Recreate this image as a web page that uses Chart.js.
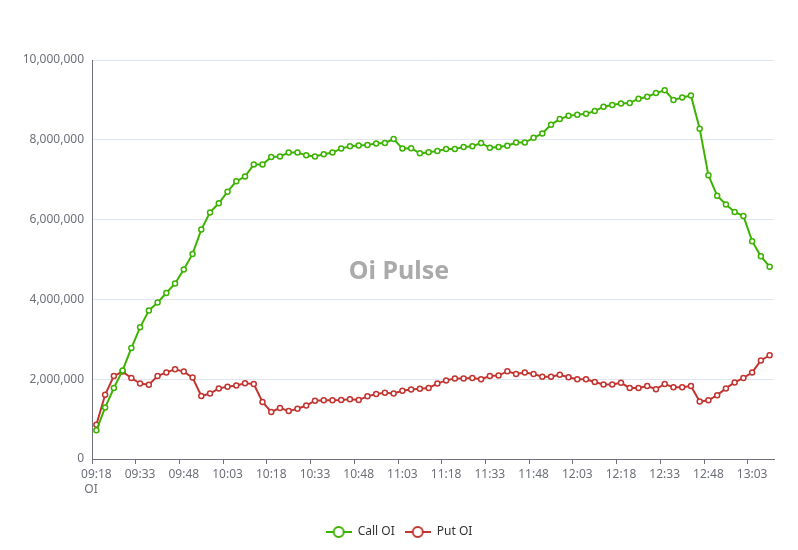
<!DOCTYPE html>
<html>
<head>
<meta charset="utf-8">
<title>Oi Pulse</title>
<script src="https://cdn.jsdelivr.net/npm/chart.js@4/dist/chart.umd.min.js"></script>
<style>
  html, body { margin: 0; padding: 0; background: #fff; }
  #wrap { width: 798px; height: 550px; }
</style>
</head>
<body>
<div id="wrap"><canvas id="oiChart" width="798" height="550"></canvas></div>
<script>
// time slots (every 3 min)
const times = [
  '09:18', '09:21', '09:24', '09:27', '09:30', '09:33', '09:36', '09:39', '09:42', '09:45',
  '09:48', '09:51', '09:54', '09:57', '10:00', '10:03', '10:06', '10:09', '10:12', '10:15',
  '10:18', '10:21', '10:24', '10:27', '10:30', '10:33', '10:36', '10:39', '10:42', '10:45',
  '10:48', '10:51', '10:54', '10:57', '11:00', '11:03', '11:06', '11:09', '11:12', '11:15',
  '11:18', '11:21', '11:24', '11:27', '11:30', '11:33', '11:36', '11:39', '11:42', '11:45',
  '11:48', '11:51', '11:54', '11:57', '12:00', '12:03', '12:06', '12:09', '12:12', '12:15',
  '12:18', '12:21', '12:24', '12:27', '12:30', '12:33', '12:36', '12:39', '12:42', '12:45',
  '12:48', '12:51', '12:54', '12:57', '13:00', '13:03', '13:06', '13:09'
];

// open interest, in millions
const callOI = [
  0.72, 1.29, 1.78, 2.22, 2.78, 3.30, 3.72, 3.92, 4.16, 4.40,
  4.75, 5.14, 5.75, 6.18, 6.41, 6.70, 6.96, 7.08, 7.38, 7.38,
  7.57, 7.58, 7.68, 7.68, 7.61, 7.58, 7.64, 7.68, 7.78, 7.84,
  7.86, 7.87, 7.91, 7.92, 8.02, 7.78, 7.79, 7.66, 7.69, 7.72,
  7.77, 7.77, 7.82, 7.84, 7.92, 7.80, 7.82, 7.85, 7.93, 7.93,
  8.05, 8.16, 8.38, 8.52, 8.60, 8.63, 8.65, 8.72, 8.83, 8.87,
  8.91, 8.92, 9.03, 9.08, 9.17, 9.24, 9.00, 9.06, 9.11, 8.28,
  7.11, 6.60, 6.38, 6.19, 6.09, 5.46, 5.08, 4.82
];
const putOI = [
  0.86, 1.61, 2.08, 2.19, 2.03, 1.89, 1.86, 2.08, 2.17, 2.25,
  2.19, 2.04, 1.58, 1.64, 1.77, 1.81, 1.84, 1.90, 1.88, 1.43,
  1.18, 1.28, 1.20, 1.26, 1.34, 1.46, 1.47, 1.47, 1.48, 1.50,
  1.48, 1.57, 1.63, 1.66, 1.64, 1.71, 1.74, 1.76, 1.78, 1.89,
  1.97, 2.02, 2.02, 2.03, 2.00, 2.08, 2.09, 2.20, 2.13, 2.17,
  2.13, 2.06, 2.06, 2.11, 2.05, 2.00, 2.00, 1.93, 1.87, 1.87,
  1.91, 1.78, 1.78, 1.83, 1.75, 1.88, 1.80, 1.80, 1.83, 1.44,
  1.47, 1.60, 1.77, 1.92, 2.03, 2.17, 2.47, 2.60
];

const seriesNames = ['Call OI', 'Put OI'];
const yTicks = { min: 0, max: 10000000, step: 2000000 };

const GREEN = '#3cb300';
const RED = '#c23531';
const AXIS = '#6e7079';

// legend icon: short line with a hollow circle on it
const makeLegendIcon = (color) => {
  const c = document.createElement('canvas');
  c.width = 26;
  c.height = 14;
  const g = c.getContext('2d');
  g.strokeStyle = color;
  g.lineWidth = 2;
  g.beginPath();
  g.moveTo(0, 7);
  g.lineTo(26, 7);
  g.stroke();
  g.beginPath();
  g.arc(13, 7, 5, 0, Math.PI * 2);
  g.fillStyle = '#fff';
  g.fill();
  g.stroke();
  return c;
};

// watermark title + axis name
const textPlugin = {
  id: 'extraText',
  afterDraw(chart) {
    const { ctx } = chart;
    ctx.save();
    ctx.textAlign = 'center';
    ctx.textBaseline = 'middle';
    ctx.fillStyle = '#aaaaaa';
    ctx.font = "bold 25px 'Noto Sans', sans-serif";
    ctx.fillText('Oi Pulse', 399, 272);
    ctx.fillStyle = AXIS;
    ctx.font = "12px 'Noto Sans', sans-serif";
    ctx.fillText('OI', 91, 490);
    ctx.restore();
  },
};

Chart.defaults.font.family = "'Noto Sans', sans-serif";
Chart.defaults.font.size = 12;

const toValues = (arr) => arr.map((v) => Math.round(v * 1000000));

const lineStyle = (color) => ({
  borderColor: color,
  backgroundColor: color,
  borderWidth: 2,
  pointRadius: 2.5,
  pointBorderWidth: 1.5,
  pointBackgroundColor: '#fff',
  pointBorderColor: color,
  pointStyle: 'circle',
  tension: 0,
  fill: false,
});

const ctx = document.getElementById('oiChart');

new Chart(ctx, {
  type: 'line',
  data: {
    labels: times,
    datasets: [
      { label: seriesNames[0], data: toValues(callOI), ...lineStyle(GREEN) },
      { label: seriesNames[1], data: toValues(putOI), ...lineStyle(RED) },
    ],
  },
  options: {
    responsive: false,
    animation: false,
    layout: { padding: { top: 60, right: 0, left: 0, bottom: 2 } },
    plugins: {
      tooltip: { enabled: false },
      legend: {
        position: 'bottom',
        labels: {
          usePointStyle: true,
          pointStyleWidth: 26,
          padding: 10,
          color: '#333',
          font: { size: 12 },
          generateLabels(chart) {
            const colors = [GREEN, RED];
            return chart.data.datasets.map((ds, i) => ({
              text: ds.label,
              fontColor: '#333',
              pointStyle: makeLegendIcon(colors[i]),
              datasetIndex: i,
              hidden: !chart.isDatasetVisible(i),
              lineWidth: 0,
            }));
          },
        },
      },
    },
    scales: {
      x: {
        offset: true,
        afterFit(scale) { scale.height = 57; },
        border: { display: true, color: AXIS, width: 1 },
        grid: {
          offset: true,
          drawOnChartArea: false,
          drawTicks: true,
          tickLength: 5,
          color: (c) => (c.index % 5 === 0 ? AXIS : 'rgba(0,0,0,0)'),
        },
        ticks: {
          autoSkip: false,
          maxRotation: 0,
          padding: 3,
          color: AXIS,
          callback: (val, i) => (i % 5 === 0 ? times[i] : ''),
        },
      },
      y: {
        min: yTicks.min,
        max: yTicks.max,
        afterFit(scale) { scale.width = 92; },
        border: { display: true, color: AXIS, width: 1 },
        grid: { color: '#e0e6f1', drawTicks: false },
        ticks: {
          stepSize: yTicks.step,
          padding: 8,
          color: AXIS,
          callback: (v) => Number(v).toLocaleString('en-US'),
        },
      },
      // empty right-hand spacer so the legend stays centred on the canvas
      spacer: {
        type: 'linear',
        position: 'right',
        afterFit(scale) { scale.width = 24; },
        border: { display: false },
        grid: { drawOnChartArea: false, drawTicks: false, display: false },
        ticks: { display: false },
      },
    },
  },
  plugins: [textPlugin],
});
</script>
</body>
</html>
